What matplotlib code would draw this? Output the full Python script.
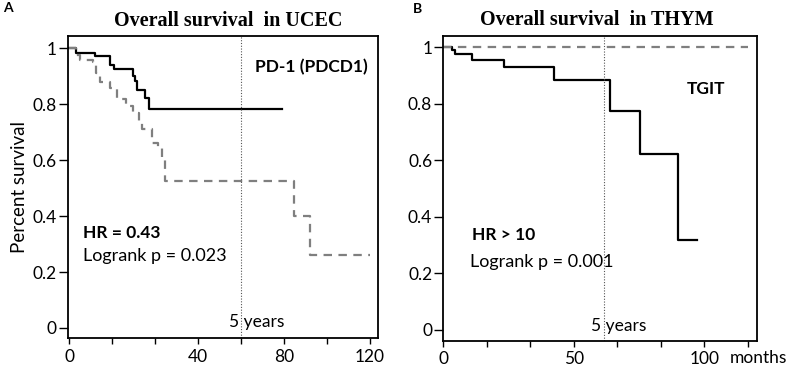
import numpy as np
import matplotlib
matplotlib.use('Agg')
from matplotlib import pyplot as plt

plt.rcParams['font.family'] = ['Lato', 'DejaVu Sans']

# ---- panel A : UCEC, PD-1 (PDCD1) ----
a_high_t = [0, 3.1, 12.1, 19.1, 20.7, 29.7, 30.5, 31.6, 35.4, 37.3, 99.2]
a_high_s = [1.0, 0.983, 0.971, 0.941, 0.926, 0.900, 0.882, 0.852, 0.822, 0.784, 0.784]
a_low_t = [0, 3.1, 5.0, 11.0, 12.4, 14.3, 18.9, 22.2, 26.4, 29.7, 32.5, 33.9,
           38.6, 41.4, 43.2, 44.6, 104.8, 112.2, 140.2]
a_low_s = [1.0, 0.975, 0.958, 0.950, 0.910, 0.878, 0.858, 0.820, 0.793, 0.768,
           0.733, 0.710, 0.660, 0.642, 0.600, 0.524, 0.400, 0.262, 0.262]
a_xticks = [0, 20, 40, 60, 80, 100, 120, 140]
a_xlabels = ['0', '', '', '40', '', '80', '', '120']
a_vline = 80

# ---- panel B : THYM, TGIT ----
b_high_t = [0, 3.3, 4.5, 11.0, 23.3, 42.3, 64.0, 75.4, 89.8, 97.1]
b_high_s = [1.0, 0.99, 0.975, 0.955, 0.929, 0.885, 0.776, 0.623, 0.318, 0.318]
b_low_t = [0, 116.9]
b_low_s = [1.0, 1.0]
b_xticks = [0, 16.7, 33.3, 50, 66.7, 83.3, 100, 116.7]
b_xlabels = ['0', '', '', '50', '', '', '100', '']
b_vline = 61.5

yticks = [0, 0.2, 0.4, 0.6, 0.8, 1]
ylabels = ['0', '0.2', '0.4', '0.6', '0.8', '1']

W, H = 797, 367
fig = plt.figure(figsize=(W / 100, H / 100), dpi=100)
axA = fig.add_axes([68 / W, 1 - 338.3 / H, 310 / W, 302.3 / H])
axB = fig.add_axes([443.3 / W, 1 - 341 / H, 314 / W, 305 / H])


def style(ax, xticks, xlabels):
    for s in ax.spines.values():
        s.set_linewidth(1.3)
    ax.set_yticks(yticks)
    ax.set_yticklabels(ylabels, fontsize=12.5)
    ax.set_xticks(xticks)
    ax.set_xticklabels(xlabels, fontsize=12.5)
    ax.tick_params(axis='y', length=6.5, width=1, pad=1.5)
    ax.tick_params(axis='x', length=4, width=1, pad=3.5)


dash = (0, (3.8, 2.9))
dots = (0, (1, 1.5))

axA.step(a_high_t, a_high_s, where='post', color='black', lw=1.6)
axA.step(a_low_t, a_low_s, where='post', color='#7f7f7f', lw=1.6, ls=dash)
axA.axvline(a_vline, color='#555555', lw=0.8, ls=dots)
axA.set_xlim(-0.6, 143.8)
axA.set_ylim(-0.037, 1.044)
style(axA, a_xticks, a_xlabels)
axA.set_ylabel('Percent survival', fontsize=13.5, labelpad=3)
axA.text(112.7, 0.933, 'PD-1 (PDCD1)', fontsize=12.5, fontweight='bold', ha='center', va='center')
axA.text(6.4, 0.339, 'HR = 0.43', fontsize=12.5, fontweight='bold', ha='left', va='center')
axA.text(6.4, 0.257, 'Logrank p = 0.023', fontsize=13, ha='left', va='center')
axA.text(87.1, 0.02, '5 years', fontsize=12.5, ha='center', va='center')

axB.step(b_high_t, b_high_s, where='post', color='black', lw=1.6)
axB.plot(b_low_t, b_low_s, color='#7f7f7f', lw=1.6, ls=dash)
axB.axvline(b_vline, color='#555555', lw=0.8, ls=dots)
axB.set_xlim(0, 120.3)
axB.set_ylim(-0.039, 1.04)
style(axB, b_xticks, b_xlabels)
axB.text(100.6, 0.853, 'TGIT', fontsize=12.5, fontweight='bold', ha='center', va='center')
axB.text(11.0, 0.336, 'HR > 10', fontsize=12.5, fontweight='bold', ha='left', va='center')
axB.text(10.2, 0.24, 'Logrank p = 0.001', fontsize=13, ha='left', va='center')
axB.text(67.3, 0.014, '5 years', fontsize=12.5, ha='center', va='center')

fig.text(758 / W, 1 - 358 / H, 'months', fontsize=12.5, ha='center', va='center')

fig.text(228 / W, 1 - 21 / H, 'Overall survival  in UCEC', fontsize=14.5, fontweight='bold',
         family='Liberation Serif', ha='center', va='center')
fig.text(597 / W, 1 - 20 / H, 'Overall survival  in THYM', fontsize=14.5, fontweight='bold',
         family='Liberation Serif', ha='center', va='center')
fig.text(8 / W, 1 - 8 / H, 'A', fontsize=10, fontweight='bold', ha='center', va='center')
fig.text(417 / W, 1 - 9 / H, 'B', fontsize=10, fontweight='bold', ha='center', va='center')

fig.savefig('out.png', dpi=100)
